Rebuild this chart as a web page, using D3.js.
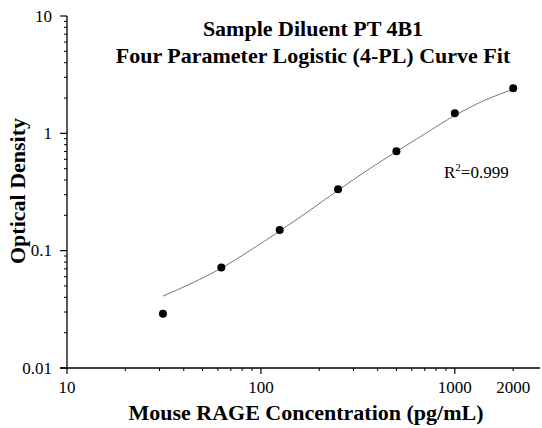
<!DOCTYPE html>
<html><head><meta charset="utf-8">
<script src="https://cdn.jsdelivr.net/npm/d3@7"></script>
<style>
html,body{margin:0;padding:0;background:#fff;}
svg{display:block;font-family:"Liberation Serif","Times New Roman",serif;}
</style></head>
<body><svg id="c" width="542" height="428"></svg>
<script>
// Data
const concentrations = [31.25, 62.5, 125, 250, 500, 1000, 2000];
const odValues = [0.029, 0.072, 0.150, 0.333, 0.705, 1.48, 2.42];
const fitConc = [31.25, 44.2, 62.5, 88.4, 125, 177, 250, 354, 500, 707, 1000, 1414, 2000];
const fitOD = [0.041, 0.053, 0.071, 0.101, 0.147, 0.218, 0.327, 0.485, 0.70, 1.00, 1.42, 1.90, 2.37];
const xTickValues = [10, 100, 1000, 2000];
const xTickLabels = ["10", "100", "1000", "2000"];
const yTickValues = [0.01, 0.1, 1, 10];
const yTickLabels = ["0.01", "0.1", "1", "10"];
const titleLines = ["Sample Diluent PT 4B1", "Four Parameter Logistic (4-PL) Curve Fit"];

const svg = d3.select("#c");
const x = d3.scaleLog().domain([10, 2750]).range([67, 540]);
const y = d3.scaleLog().domain([0.01, 10]).range([368, 16]);

// minor ticks
const xMinor = [];
for (const d of [10, 100, 1000]) for (let k = 2; k <= 9; k++) { const v = d * k; if (v <= 2750 && v !== 2000) xMinor.push(v); }
const yMinor = [];
for (const d of [0.01, 0.1, 1]) for (let k = 2; k <= 9; k++) yMinor.push(d * k);

const axisCol = "#000";
// X axis
const gx = svg.append("g").attr("transform", "translate(0,368)");
gx.append("line").attr("x1", 60).attr("x2", 540).attr("y1", 0).attr("y2", 0).attr("stroke", axisCol).attr("stroke-width", 1.3);
gx.selectAll(".mn").data(xMinor).join("line").attr("x1", d => x(d)).attr("x2", d => x(d)).attr("y1", 0).attr("y2", 3).attr("stroke", axisCol);
gx.selectAll(".mj").data(xTickValues).join("line").attr("x1", d => x(d)).attr("x2", d => x(d)).attr("y1", 0).attr("y2", d => d === 2000 ? 3 : 6).attr("stroke", axisCol).attr("stroke-width", 1.2);
gx.selectAll(".lb").data(xTickValues).join("text").attr("x", d => x(d)).attr("y", 25).attr("text-anchor", "middle").attr("font-size", 17).text((d, i) => xTickLabels[i]);

// Y axis
const gy = svg.append("g").attr("transform", "translate(67,0)");
gy.append("line").attr("x1", 0).attr("x2", 0).attr("y1", 16).attr("y2", 368).attr("stroke", axisCol).attr("stroke-width", 1.3);
gy.selectAll(".mn").data(yMinor).join("line").attr("x1", -3).attr("x2", 0).attr("y1", d => y(d)).attr("y2", d => y(d)).attr("stroke", axisCol);
gy.selectAll(".mj").data(yTickValues).join("line").attr("x1", -7).attr("x2", 0).attr("y1", d => y(d)).attr("y2", d => y(d)).attr("stroke", axisCol).attr("stroke-width", 1.2);
gy.selectAll(".lb").data(yTickValues).join("text").attr("x", -15).attr("y", d => y(d) + 5.5).attr("text-anchor", "end").attr("font-size", 17).text((d, i) => yTickLabels[i]);

// Curve
const line = d3.line().x(d => x(d[0])).y(d => y(d[1])).curve(d3.curveMonotoneX);
svg.append("path").attr("d", line(fitConc.map((c, i) => [c, fitOD[i]]))).attr("fill", "none").attr("stroke", "#777").attr("stroke-width", 1);

// Points
svg.selectAll(".pt").data(concentrations).join("circle").attr("cx", d => x(d)).attr("cy", (d, i) => y(odValues[i])).attr("r", 4).attr("fill", "#000");

// Title
svg.selectAll(".tt").data(titleLines).join("text").attr("x", 313).attr("y", (d, i) => 36 + i * 27).attr("text-anchor", "middle").attr("font-size", 22).attr("font-weight", "bold").text(d => d);

// R2
const r2 = svg.append("text").attr("x", 444).attr("y", 178).attr("font-size", 17);
r2.append("tspan").text("R");
r2.append("tspan").attr("dy", -7).attr("font-size", 11).text("2");
r2.append("tspan").attr("dy", 7).text("=0.999");

// Axis titles
svg.append("text").attr("x", 306).attr("y", 420).attr("text-anchor", "middle").attr("font-size", 22).attr("font-weight", "bold").text("Mouse RAGE Concentration (pg/mL)");
svg.append("text").attr("transform", "translate(25,191) rotate(-90)").attr("text-anchor", "middle").attr("font-size", 22).attr("font-weight", "bold").text("Optical Density");
</script></body></html>
